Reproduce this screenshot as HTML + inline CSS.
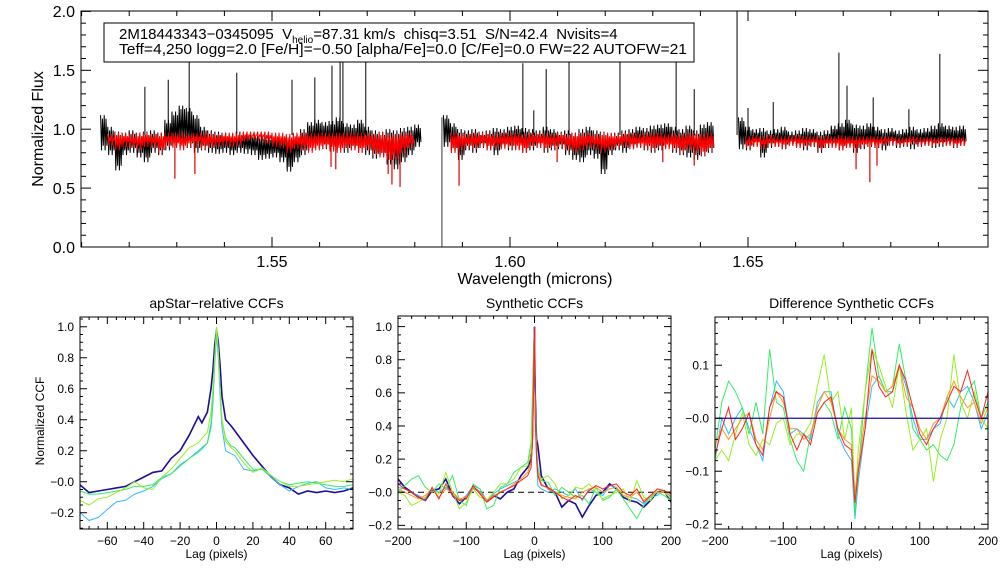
<!DOCTYPE html>
<html><head><meta charset="utf-8"><style>
body{margin:0;background:#fff;}
svg{display:block;font-family:"Liberation Sans",Arial,sans-serif;}
</style></head><body>
<svg id="fig" width="1008" height="576" viewBox="0 0 1008 576"></svg>
<script>
// ---------- TOP SPECTRUM DATA ----------
const chipStarts=[1.514,1.586,1.648];
const chipStep=0.0015;
const blackHi1=[1.12,1.02,0.98,0.97,0.99,0.97,0.98,0.99,0.97,1.08,1.15,1.20,1.18,1.12,1.02,0.99,0.98,0.97,0.96,0.98,0.97,0.96,0.95,0.94,0.95,0.93,0.94,0.96,1.00,1.06,1.08,1.06,1.07,1.10,1.05,1.04,1.08,1.02,0.99,0.98,1.00,0.99,1.01,1.02,1.04];
const blackLo1=[0.82,0.78,0.65,0.78,0.80,0.76,0.72,0.80,0.78,0.82,0.85,0.87,0.84,0.80,0.82,0.80,0.79,0.80,0.78,0.80,0.79,0.78,0.74,0.75,0.76,0.72,0.64,0.72,0.78,0.82,0.84,0.83,0.82,0.84,0.80,0.82,0.80,0.78,0.75,0.76,0.70,0.66,0.72,0.78,0.85];
const blackHi2=[1.12,1.05,1.00,0.99,1.00,0.98,0.99,1.01,1.00,1.02,1.03,1.01,1.00,0.99,1.02,1.00,0.98,0.99,0.97,1.00,1.02,0.99,0.98,0.96,0.97,0.99,1.00,1.02,1.01,1.03,1.04,1.05,1.02,1.00,1.03,0.99,1.04,1.06];
const blackLo2=[0.85,0.80,0.74,0.82,0.80,0.84,0.82,0.78,0.84,0.82,0.83,0.80,0.82,0.84,0.80,0.82,0.83,0.78,0.74,0.72,0.78,0.75,0.62,0.78,0.82,0.80,0.83,0.84,0.82,0.80,0.82,0.84,0.80,0.78,0.76,0.74,0.77,0.80];
const blackHi3=[1.10,1.02,1.00,1.01,0.99,1.00,1.02,0.98,0.99,1.01,1.00,0.98,0.99,1.03,1.05,1.08,1.04,1.03,1.05,1.02,1.00,1.01,0.99,1.00,1.02,1.00,1.01,1.03,1.05,1.03,1.02,1.03];
const blackLo3=[0.83,0.82,0.86,0.76,0.84,0.85,0.83,0.86,0.84,0.82,0.85,0.80,0.84,0.86,0.82,0.84,0.80,0.83,0.85,0.84,0.82,0.86,0.84,0.85,0.83,0.85,0.86,0.84,0.85,0.86,0.84,0.86];
const redHi1=[null,0.96,0.97,0.97,0.96,0.97,0.97,0.96,0.97,0.97,0.97,0.97,0.96,0.97,0.97,0.97,0.96,0.97,0.97,0.97,0.98,0.98,0.98,0.98,0.97,0.97,0.96,0.97,0.97,0.97,0.97,0.97,0.97,0.97,0.97,0.97,0.97,0.97,0.96,0.97,0.96,0.96,0.97,0.97,null];
const redLo1=[null,0.86,0.82,0.85,0.84,0.82,0.85,0.84,0.80,0.85,0.84,0.82,0.85,0.86,0.83,0.84,0.85,0.86,0.85,0.86,0.90,0.91,0.90,0.88,0.85,0.84,0.80,0.83,0.82,0.80,0.82,0.84,0.81,0.80,0.83,0.82,0.80,0.82,0.78,0.76,0.74,0.75,0.80,0.84,null];
const redHi2=[null,0.97,0.97,0.96,0.97,0.97,0.97,0.96,0.97,0.97,0.97,0.96,0.97,0.97,0.97,0.96,0.97,0.96,0.97,0.97,0.97,0.96,0.97,0.97,0.96,0.97,0.97,0.96,0.97,0.97,0.97,0.96,0.97,0.96,0.97,0.97,0.96,0.97];
const redLo2=[null,0.80,0.82,0.84,0.83,0.85,0.82,0.84,0.83,0.84,0.82,0.80,0.85,0.84,0.82,0.84,0.85,0.82,0.80,0.82,0.84,0.83,0.80,0.82,0.84,0.85,0.83,0.84,0.83,0.82,0.84,0.83,0.82,0.80,0.82,0.80,0.78,0.82];
const redHi3=[null,0.94,0.95,0.94,0.95,0.94,0.94,0.94,0.95,0.94,0.94,0.94,0.94,0.94,0.95,0.94,0.94,0.94,0.94,0.94,0.94,0.94,0.93,0.93,0.94,0.93,0.93,0.93,0.93,0.93,0.93,0.93];
const redLo3=[null,0.84,0.85,0.83,0.86,0.85,0.84,0.86,0.84,0.85,0.86,0.82,0.85,0.84,0.82,0.84,0.83,0.85,0.86,0.85,0.86,0.87,0.86,0.86,0.87,0.86,0.86,0.86,0.87,0.86,0.85,0.86];
const spikeWave=[1.5233,1.5282,1.5326,1.5426,1.5542,1.5590,1.5626,1.5643,1.5649,1.5697,1.6027,1.6050,1.6076,1.6124,1.6231,1.6349,1.6387,1.6477,1.6500,1.6553,1.6691,1.6708,1.6763,1.6838,1.6903];
const spikeFlux=[1.36,1.42,1.62,1.48,1.42,1.44,1.54,1.65,1.65,1.62,1.56,1.16,1.51,1.65,1.65,1.65,1.34,2.0,1.18,1.23,1.65,1.37,1.27,1.17,1.64];
const gapWave=[1.5857];
const gapFlux=[0.0];
const dipWave=[1.5296,1.5338,1.5624,1.5634,1.5744,1.5752,1.5769,1.5893,1.6099,1.6321,1.6387,1.6727,1.6756,1.6771];
const dipFlux=[0.58,0.62,0.68,0.66,0.62,0.53,0.51,0.52,0.72,0.72,0.69,0.66,0.55,0.69];

// ---------- CCF PANEL 1 ----------
const lag1=[-75,-70,-65,-60,-55,-50,-45,-40,-35,-30,-25,-20,-15,-10,-8,-5,-3,-2,-1,0,1,2,3,5,8,10,15,20,25,30,35,40,45,50,55,60,65,70,75];
const ccf1Navy=[-0.02,-0.07,-0.06,-0.05,-0.04,-0.03,0.0,0.03,0.06,0.07,0.15,0.2,0.3,0.42,0.38,0.45,0.6,0.72,0.88,0.98,0.9,0.75,0.55,0.4,0.36,0.33,0.25,0.17,0.10,0.03,-0.02,-0.04,-0.08,-0.06,-0.07,-0.06,-0.07,-0.06,-0.04];
const ccf1Cyan=[-0.2,-0.25,-0.23,-0.18,-0.13,-0.12,-0.08,-0.06,-0.03,0.02,0.05,0.11,0.15,0.2,0.22,0.25,0.35,0.5,0.75,0.95,0.8,0.55,0.35,0.2,0.18,0.17,0.08,0.07,0.08,0.03,-0.02,-0.06,-0.03,-0.01,0.0,-0.04,-0.05,-0.04,-0.05];
const ccf1Green=[-0.06,-0.08,-0.08,-0.07,-0.06,-0.05,-0.03,-0.03,-0.02,0.03,0.05,0.10,0.15,0.19,0.21,0.25,0.38,0.55,0.8,1.0,0.85,0.6,0.4,0.28,0.23,0.22,0.15,0.08,0.08,0.04,0.0,-0.02,-0.01,0.0,-0.01,-0.02,-0.03,-0.03,-0.02];
const ccf1Lime=[-0.12,-0.15,-0.11,-0.1,-0.07,-0.04,0.0,-0.04,-0.05,0.03,0.08,0.15,0.22,0.25,0.28,0.32,0.45,0.6,0.8,1.0,0.85,0.6,0.4,0.26,0.22,0.2,0.12,0.06,0.09,0.04,0.0,-0.03,-0.03,-0.02,-0.01,0.0,0.01,0.0,0.02];

// ---------- CCF PANEL 2 ----------
const lag2=[-200,-190,-180,-170,-160,-150,-140,-130,-120,-110,-100,-90,-80,-70,-60,-50,-40,-30,-20,-10,-5,-3,-1,0,1,3,5,10,20,30,40,50,60,70,80,90,100,110,120,130,140,150,160,170,180,190,200];
const ccf2Navy=[0.08,0.03,0.0,-0.03,-0.05,0.01,0.02,0.08,-0.02,-0.07,-0.03,0.03,0.0,-0.05,-0.02,-0.04,0.0,0.02,0.1,0.15,0.2,0.35,0.8,1.0,0.6,0.32,0.28,0.1,0.02,0.0,-0.09,-0.05,-0.07,-0.15,-0.08,-0.02,0.0,0.05,0.02,-0.03,-0.05,-0.06,-0.09,-0.05,0.0,0.01,-0.06];
const ccf2Cyan=[0.03,0.02,0.0,-0.02,-0.04,0.02,0.0,0.03,0.0,-0.05,-0.02,0.04,0.02,-0.05,-0.01,0.02,0.04,0.06,0.08,0.12,0.18,0.3,0.75,0.98,0.5,0.2,0.04,0.02,0.0,0.02,0.0,-0.02,0.02,-0.05,0.02,0.0,-0.02,0.04,0.03,-0.02,-0.03,-0.04,-0.07,-0.03,-0.02,0.01,-0.03];
const ccf2Green=[0.0,0.04,0.08,0.1,0.03,0.0,0.05,0.02,0.1,-0.05,-0.08,0.05,0.02,-0.1,-0.08,0.03,0.05,0.12,0.15,0.18,0.3,0.6,0.9,0.98,0.55,0.3,0.15,0.07,0.06,-0.02,0.03,0.0,-0.03,-0.02,-0.07,0.03,-0.05,-0.03,0.02,-0.04,-0.1,-0.16,-0.08,-0.03,0.0,-0.02,-0.05];
const ccf2Lime=[0.0,-0.02,-0.08,-0.06,-0.03,0.02,-0.01,0.12,0.0,-0.1,-0.06,0.02,-0.03,-0.05,0.0,0.05,0.05,0.08,0.15,0.16,0.25,0.45,0.85,0.95,0.5,0.25,0.1,0.08,0.1,0.05,-0.04,-0.02,0.03,0.02,0.05,0.0,-0.04,-0.02,0.0,0.02,-0.06,0.07,-0.03,-0.05,0.02,0.0,-0.04];
const ccf2Orange=[0.02,0.0,-0.02,-0.04,-0.02,0.02,-0.03,0.02,0.0,-0.04,-0.03,0.03,0.0,-0.05,-0.02,0.0,0.02,0.05,0.08,0.12,0.18,0.32,0.8,0.99,0.5,0.25,0.12,0.05,0.02,0.0,-0.02,-0.03,-0.04,0.0,0.02,0.03,0.0,0.02,0.03,-0.02,-0.03,0.0,-0.05,-0.02,0.0,0.0,-0.02];
const ccf2Red=[0.05,0.02,0.0,-0.03,-0.05,0.03,-0.04,0.05,-0.02,-0.05,-0.04,0.04,-0.01,-0.06,-0.03,0.0,0.02,0.04,0.07,0.1,0.15,0.3,0.8,1.0,0.45,0.22,0.1,0.04,0.03,0.0,-0.03,-0.05,-0.02,-0.04,0.01,0.04,0.02,0.04,0.05,0.0,-0.02,0.02,-0.06,-0.02,0.02,0.01,-0.01];

// ---------- CCF PANEL 3 ----------
const lag3=[-200,-190,-180,-170,-160,-150,-140,-130,-120,-110,-100,-90,-80,-70,-60,-50,-40,-30,-20,-10,0,5,10,20,30,40,50,60,70,80,90,100,110,120,130,140,150,160,170,180,190,200];
const diffCyan=[-0.08,0.0,-0.03,0.0,0.02,-0.02,-0.05,-0.08,0.02,0.07,0.05,-0.03,-0.02,-0.03,-0.04,0.03,0.05,0.05,-0.03,-0.06,-0.08,-0.19,-0.12,-0.02,0.06,0.08,0.05,0.05,0.1,0.06,0.0,-0.04,-0.04,-0.02,-0.01,0.04,0.02,0.05,0.06,0.03,-0.02,0.01];
const diffGreen=[-0.06,0.03,0.07,0.05,0.02,-0.03,0.03,-0.03,0.13,0.03,0.02,-0.04,-0.08,-0.1,-0.03,0.01,0.03,0.01,-0.04,0.02,-0.02,-0.18,-0.1,0.05,0.17,0.08,0.05,0.06,0.14,0.07,-0.02,-0.04,-0.06,-0.05,-0.07,-0.08,-0.05,0.02,0.05,0.07,0.0,0.03];
const diffLime=[-0.08,-0.06,-0.08,-0.03,0.01,-0.05,-0.07,-0.04,-0.05,-0.01,0.0,-0.05,-0.03,-0.03,-0.01,0.06,0.12,0.03,0.05,-0.04,0.02,-0.16,-0.06,0.05,0.13,0.1,0.06,0.02,0.1,0.01,-0.06,-0.04,-0.02,-0.12,-0.04,0.0,0.12,0.03,0.0,0.05,0.0,-0.02];
const diffOrange=[-0.05,-0.02,-0.04,-0.02,0.0,0.01,-0.04,-0.06,0.0,0.05,0.03,-0.02,-0.02,-0.04,-0.03,0.02,0.05,0.03,-0.02,-0.04,-0.05,-0.14,-0.09,0.0,0.08,0.07,0.05,0.06,0.1,0.04,0.02,-0.02,-0.04,-0.01,0.0,0.04,0.07,0.04,0.02,0.03,-0.01,0.02];
const diffRed=[-0.07,-0.02,0.02,-0.04,-0.02,0.01,-0.05,-0.07,0.02,0.05,0.04,-0.03,-0.06,-0.03,-0.05,0.01,0.03,0.04,-0.02,-0.05,-0.06,-0.16,-0.1,-0.02,0.13,0.06,0.04,0.05,0.1,0.07,0.02,-0.03,-0.05,-0.02,0.0,0.03,0.06,0.05,0.09,0.04,0.0,0.05];

const NS='http://www.w3.org/2000/svg';
const svg=document.getElementById('fig');
function mk(tag,attrs,parent){const e=document.createElementNS(NS,tag);for(const k in attrs)e.setAttribute(k,attrs[k]);(parent||svg).appendChild(e);return e;}
function txt(s,x,y,size,anchor,parent){const t=mk('text',{x:x,y:y,'font-size':size,'text-anchor':anchor||'middle',fill:'#000'},parent);t.textContent=s;return t;}

function frame(L,R,T,B,name){
  const r=mk('rect',{x:L,y:T,width:R-L,height:B-T,fill:'none',stroke:'#000','stroke-width':1});
  
  
}
function ticks(sx,sy,L,R,T,B,xMaj,xMin,yMaj,yMin,xr,yr,fmtX,fmtY,fs,maj,mnr,name){
  const g=mk('g',{stroke:'#000','stroke-width':1});
  
  
  const lg=mk('g',{});
  
  
  const eps=1e-9;
  for(let v=Math.ceil(xr[0]/xMin-eps)*xMin;v<=xr[1]+eps;v+=xMin){
    const x=sx(v);const isM=Math.abs(v/xMaj-Math.round(v/xMaj))<1e-6;const l=isM?maj:mnr;
    mk('line',{x1:x,y1:B,x2:x,y2:B-l},g);mk('line',{x1:x,y1:T,x2:x,y2:T+l},g);
    if(isM&&fmtX)txt(fmtX(v),x,B+fs+4,fs,'middle',lg);
  }
  for(let v=Math.ceil(yr[0]/yMin-eps)*yMin;v<=yr[1]+eps;v+=yMin){
    const y=sy(v);const isM=Math.abs(v/yMaj-Math.round(v/yMaj))<1e-6;const l=isM?maj:mnr;
    mk('line',{x1:L,y1:y,x2:L+l,y2:y},g);mk('line',{x1:R,y1:y,x2:R-l,y2:y},g);
    if(isM&&fmtY)txt(fmtY(v),L-6,y+fs*0.36,fs,'end',lg);
  }
}
const minus=s=>s.replace('-','\u2212');

// ===== TOP PANEL =====
const TL=81,TR=988,TT=11,TB=247;
const wx=w=>272+(w-1.55)*4760;
const fy=v=>247-v*117.8;
frame(TL,TR,TT,TB,'spectrum-frame');
const spec=mk('g',{});


function band(hiArr,loArr,start,color,name){
  let pts=[];
  for(let i=0;i<hiArr.length;i++){
    if(hiArr[i]===null)continue;
    const x0=wx(start+i*chipStep),x1=wx(start+(i+1)*chipStep);
    const n=4;
    for(let k=0;k<n;k++){
      const xa=x0+(x1-x0)*k/n,xb=x0+(x1-x0)*(k+0.5)/n;
      pts.push(xa.toFixed(1)+','+fy(hiArr[i]-(k%2)*0.03).toFixed(1));
      pts.push(xb.toFixed(1)+','+fy(loArr[i]+(k%2)*0.04).toFixed(1));
    }
  }
  const p=mk('polyline',{points:pts.join(' '),fill:'none',stroke:color,'stroke-width':1},spec);
  
  
}
band(blackHi1,blackLo1,chipStarts[0],'#000','observed-spectrum-chip1');
band(blackHi2,blackLo2,chipStarts[1],'#000','observed-spectrum-chip2');
band(blackHi3,blackLo3,chipStarts[2],'#000','observed-spectrum-chip3');
for(let i=0;i<spikeWave.length;i++){
  const l=mk('line',{x1:wx(spikeWave[i]),x2:wx(spikeWave[i]),y1:fy(0.95),y2:fy(spikeFlux[i]),stroke:'#000','stroke-width':1},spec);
  
  
}
for(let i=0;i<gapWave.length;i++){
  const l=mk('line',{x1:wx(gapWave[i]),x2:wx(gapWave[i]),y1:fy(1.1),y2:fy(gapFlux[i]),stroke:'#333','stroke-width':1},spec);
  
  
}
band(redHi1,redLo1,chipStarts[0],'#ff0000','model-spectrum-chip1');
band(redHi2,redLo2,chipStarts[1],'#ff0000','model-spectrum-chip2');
band(redHi3,redLo3,chipStarts[2],'#ff0000','model-spectrum-chip3');
for(let i=0;i<dipWave.length;i++){
  const l=mk('line',{x1:wx(dipWave[i]),x2:wx(dipWave[i]),y1:fy(0.9),y2:fy(dipFlux[i]),stroke:'#e00000','stroke-width':1.2},spec);
  
  
}
ticks(w=>wx(w),fy,TL,TR,TT,TB,0.05,0.01,0.5,0.1,[1.51,1.699],[0,2.0],v=>v.toFixed(2),v=>v.toFixed(1),16,10,5,'spectrum');
// info box
const box=mk('g',{});


mk('rect',{x:104,y:23,width:590,height:39,fill:'#fff',stroke:'#000','stroke-width':1},box);
const t1=mk('text',{x:119,y:39,'font-size':15,fill:'#000'},box);
t1.innerHTML='2M18443343\u22120345095&#160; V<tspan font-size="10" dy="4">helio</tspan><tspan dy="-4">=87.31 km/s&#160; chisq=3.51&#160; S/N=42.4&#160; Nvisits=4</tspan>';
const t2=mk('text',{x:119,y:54,'font-size':15,fill:'#000',textLength:568,lengthAdjust:'spacingAndGlyphs'},box);
t2.textContent='Teff=4,250 logg=2.0 [Fe/H]=\u22120.50 [alpha/Fe]=0.0 [C/Fe]=0.0 FW=22 AUTOFW=21';
const yt=txt('Normalized Flux',0,0,16,'middle');
yt.setAttribute('transform','translate(43,129) rotate(-90)');


const xt=txt('Wavelength (microns)',535,284,16,'middle');



// ===== CCF panels =====
function panel(o){
  const sx=v=>o.L+(v-o.xr[0])/(o.xr[1]-o.xr[0])*(o.R-o.L);
  const sy=v=>o.B-(v-o.yr[0])/(o.yr[1]-o.yr[0])*(o.B-o.T);
  const g=mk('g',{});
  
  
  const cp=mk('clipPath',{id:o.name+'-clip'});
  mk('rect',{x:o.L,y:o.T,width:o.R-o.L,height:o.B-o.T},cp);
  const pg=mk('g',{'clip-path':'url(#'+o.name+'-clip)'},g);
  if(o.zero){
    const z=mk('line',{x1:o.L,x2:o.R,y1:sy(0),y2:sy(0),stroke:o.zero.c,'stroke-width':o.zero.w,'stroke-dasharray':o.zero.d||''},pg);
    
    
  }
  o.series.forEach(s=>{
    const pts=s.v.map((v,i)=>sx(o.lag[i]).toFixed(1)+','+sy(v).toFixed(1)).join(' ');
    const p=mk('polyline',{points:pts,fill:'none',stroke:s.c,'stroke-width':s.w||1},pg);
    
    
  });
  if(o.zeroTop){
    const z=mk('line',{x1:o.L,x2:o.R,y1:sy(0),y2:sy(0),stroke:o.zeroTop,'stroke-width':1.3},pg);
    
    
  }
  frame(o.L,o.R,o.T,o.B,o.name+'-frame');
  ticks(sx,sy,o.L,o.R,o.T,o.B,o.xMaj,o.xMin,o.yMaj,o.yMin,o.xr,o.yr,v=>minus(String(Math.round(v))),v=>minus(v.toFixed(o.yDec)),12,7,3,o.name);
  const tt=txt(o.title,(o.L+o.R)/2,308,14,'middle');
  
  
  const xl=txt('Lag (pixels)',(o.L+o.R)/2,558,12,'middle');
  
  
}
panel({name:'apstar-ccf-panel',title:'apStar\u2212relative CCFs',L:80,R:353,T:317,B:529,xr:[-75,75],yr:[-0.305,1.063],xMaj:20,xMin:5,yMaj:0.2,yMin:0.05,yDec:1,lag:lag1,
  series:[{v:ccf1Navy,c:'#1c0c9c',w:1.6,n:'ccf-navy'},{v:ccf1Cyan,c:'#33bbff',n:'ccf-cyan'},{v:ccf1Green,c:'#33ee66',n:'ccf-green'},{v:ccf1Lime,c:'#99ee22',n:'ccf-lime'}]});
const ny=txt('Normalized CCF',0,0,12,'middle');
ny.setAttribute('transform','translate(44,421) rotate(-90)');


panel({name:'synthetic-ccf-panel',title:'Synthetic CCFs',L:398,R:671,T:316,B:529,xr:[-200,200],yr:[-0.222,1.064],xMaj:100,xMin:20,yMaj:0.2,yMin:0.05,yDec:1,lag:lag2,zero:{c:'#000',w:1,d:'6,4'},
  series:[{v:ccf2Navy,c:'#1c0c9c',w:1.6,n:'syn-ccf-navy'},{v:ccf2Cyan,c:'#33bbff',n:'syn-ccf-cyan'},{v:ccf2Green,c:'#33ee66',n:'syn-ccf-green'},{v:ccf2Lime,c:'#99ee22',n:'syn-ccf-lime'},{v:ccf2Orange,c:'#ff9922',n:'syn-ccf-orange'},{v:ccf2Red,c:'#ff2222',n:'syn-ccf-red'}]});
panel({name:'difference-ccf-panel',title:'Difference Synthetic CCFs',L:715,R:988,T:317,B:529,xr:[-200,200],yr:[-0.209,0.191],xMaj:100,xMin:20,yMaj:0.1,yMin:0.02,yDec:1,lag:lag3,zeroTop:'#1c0c9c',
  series:[{v:diffCyan,c:'#33bbff',n:'diff-ccf-cyan'},{v:diffGreen,c:'#33ee66',n:'diff-ccf-green'},{v:diffLime,c:'#99ee22',n:'diff-ccf-lime'},{v:diffOrange,c:'#ff9922',n:'diff-ccf-orange'},{v:diffRed,c:'#ff2222',n:'diff-ccf-red'}]});
</script>
</body></html>
